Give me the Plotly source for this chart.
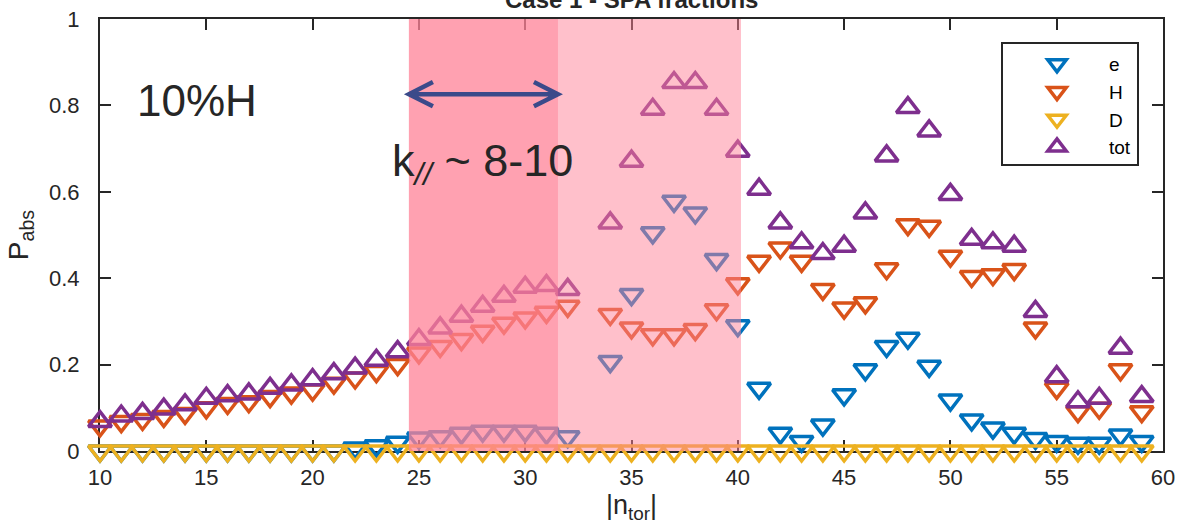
import plotly.graph_objects as go

# ---------------- data ----------------
n_tor = [10, 11, 12, 13, 14, 15, 16, 17, 18, 19,
         20, 21, 22, 23, 24, 25, 26, 27, 28, 29,
         30, 31, 32, 33, 34, 35, 36, 37, 38, 39,
         40, 41, 42, 43, 44, 45, 46, 47, 48, 49,
         50, 51, 52, 53, 54, 55, 56, 57, 58, 59]

p_e = [0, 0, 0, 0, 0, 0, 0, 0, 0, 0,
       0, 0, 0.007, 0.012, 0.02, 0.03, 0.033, 0.041, 0.046, 0.046,
       0.046, 0.041, 0.033, None, 0.207, 0.362, 0.505, 0.578, 0.551, 0.443,
       0.29, 0.145, 0.041, 0.022, 0.06, 0.13, 0.188, 0.242, 0.261, 0.196,
       0.118, 0.072, 0.053, 0.041, 0.029, 0.022, 0.018, 0.018, 0.037, 0.022]

p_H = [0.058, 0.068, 0.073, 0.08, 0.087, 0.10, 0.11, 0.114, 0.126, 0.134,
       0.141, 0.157, 0.169, 0.184, 0.2, 0.227, 0.242, 0.258, 0.277, 0.296,
       0.308, 0.321, 0.335, None, 0.316, 0.285, 0.269, 0.269, 0.281, 0.327,
       0.387, 0.439, 0.47, 0.439, 0.374, 0.331, 0.343, 0.422, 0.524, 0.52,
       0.451, 0.404, 0.408, 0.42, 0.285, 0.145, 0.091, 0.099, 0.188, 0.091]

p_D = [0, 0, 0, 0, 0, 0, 0, 0, 0, 0,
       0, 0, 0, 0, 0, 0, 0, 0, 0, 0,
       0, 0, 0, 0, 0, 0, 0, 0, 0, 0,
       0, 0, 0, 0, 0, 0, 0, 0, 0, 0,
       0, 0, 0, 0, 0, 0, 0, 0, 0, 0]

p_tot = [0.068, 0.081, 0.087, 0.097, 0.107, 0.122, 0.128, 0.132, 0.145, 0.153,
         0.165, 0.179, 0.192, 0.21, 0.23, 0.258, 0.285, 0.312, 0.335, 0.358,
         0.379, 0.383, 0.374, None, 0.528, 0.671, 0.791, 0.853, 0.853, 0.791,
         0.694, 0.606, 0.528, 0.482, 0.457, 0.474, 0.551, 0.683, 0.795, 0.741,
         0.594, 0.49, 0.482, 0.474, 0.323, 0.172, 0.114, 0.122, 0.238, 0.126]

series_names = ["e", "H", "D", "tot"]
x_ticks = [10, 15, 20, 25, 30, 35, 40, 45, 50, 55, 60]
y_ticks = [0, 0.2, 0.4, 0.6, 0.8, 1]
y_ticklabels = ["0", "0.2", "0.4", "0.6", "0.8", "1"]

# k_parallel window and total shaded window (|n_tor|)
band_all = [24.53, 40.15]
band_k = [24.53, 31.54]
arrow_y = 0.826

# ---------------- style ----------------
FONT = "Liberation Sans"
INK = "#262626"
colors = ["#0072BD", "#D95319", "#EDB120", "#7E2F8E"]
symbols = ["triangle-down-open", "triangle-down-open", "triangle-down-open", "triangle-up-open"]
values = [p_e, p_H, p_D, p_tot]

W, H = 1178, 529
ML, MR, MT, MB = 100, 15, 19, 78
PW, PH = W - ML - MR, H - MT - MB


def px_x(p):
    return (p - ML) / PW


def px_y(p):
    return 1 - (p - MT) / PH


fig = go.Figure()
for name, vals, col, sym in zip(series_names, values, colors, symbols):
    fig.add_trace(go.Scatter(
        x=n_tor, y=vals, name=name, mode="markers",
        marker=dict(symbol=sym, size=20, color=col, line=dict(color=col, width=3.5)),
        cliponaxis=False,
    ))

# shaded windows (drawn over the markers, semi-transparent)
for x0, x1 in (band_all, band_k):
    fig.add_shape(type="rect", xref="x", yref="y", x0=x0, x1=x1, y0=0, y1=1,
                  fillcolor="rgb(255,129,151)", opacity=0.5, line=dict(width=0),
                  layer="above")

# double-headed arrow over the k window
ax0, ax1 = band_k
adx, ady = 1.13, 0.028
arrow_path = (f"M {ax0},{arrow_y} L {ax1},{arrow_y} "
              f"M {ax0 + adx},{arrow_y + ady} L {ax0},{arrow_y} L {ax0 + adx},{arrow_y - ady} "
              f"M {ax1 - adx},{arrow_y + ady} L {ax1},{arrow_y} L {ax1 - adx},{arrow_y - ady}")
fig.add_shape(type="path", xref="x", yref="y", path=arrow_path,
              line=dict(color="#3B4A8A", width=4.5), layer="above")

# legend frame
fig.add_shape(type="rect", xref="paper", yref="paper",
              x0=px_x(1002), x1=px_x(1138), y0=px_y(165), y1=px_y(43),
              fillcolor="white", line=dict(color=INK, width=2), layer="above")

fig.add_annotation(x=14.56, y=0.8125, xref="x", yref="y", text="10%H", showarrow=False,
                   font=dict(family=FONT, size=44, color=INK), xanchor="center", yanchor="middle")
fig.add_annotation(x=23.62, y=0.665, xref="x", yref="y", text="k<sub><i>//</i></sub> ~ 8-10",
                   showarrow=False, font=dict(family=FONT, size=45, color=INK),
                   xanchor="left", yanchor="middle")
fig.add_annotation(x=0.5, y=1.009, xref="paper", yref="paper", text="<b>Case 1 - SPA fractions</b>",
                   showarrow=False, font=dict(family=FONT, size=24, color=INK),
                   xanchor="center", yanchor="bottom")

axis_common = dict(
    showgrid=False, zeroline=False, showline=True, linecolor=INK, linewidth=2,
    mirror="ticks", ticks="inside", ticklen=11, tickwidth=1.5, tickcolor=INK,
    tickfont=dict(family=FONT, size=22, color=INK), layer="below traces",
    automargin=False,
)

fig.update_xaxes(range=[10, 60], tickmode="array", tickvals=x_ticks,
                 ticklabelstandoff=6,
                 title=dict(text="|n<sub>tor</sub>|", font=dict(family=FONT, size=27, color=INK),
                            standoff=6),
                 **axis_common)
fig.update_yaxes(range=[0, 1], tickmode="array", tickvals=y_ticks, ticktext=y_ticklabels,
                 ticklabelstandoff=14,
                 title=dict(text="P<sub>abs</sub>", font=dict(family=FONT, size=28, color=INK),
                            standoff=12),
                 **axis_common)

fig.update_layout(
    width=W, height=H,
    margin=dict(l=ML, r=MR, t=MT, b=MB, autoexpand=False),
    paper_bgcolor="white", plot_bgcolor="white",
    font=dict(family=FONT, color=INK),
    showlegend=True,
    legend=dict(x=px_x(1005), y=px_y(45), xanchor="left", yanchor="top",
                bgcolor="rgba(0,0,0,0)", borderwidth=0,
                font=dict(family=FONT, size=19, color="black"),
                itemwidth=94, tracegroupgap=0),
)

fig.write_html("out.html",
               config={"displayModeBar": False},
               post_script="document.body.style.margin='0';document.body.style.padding='0';")
